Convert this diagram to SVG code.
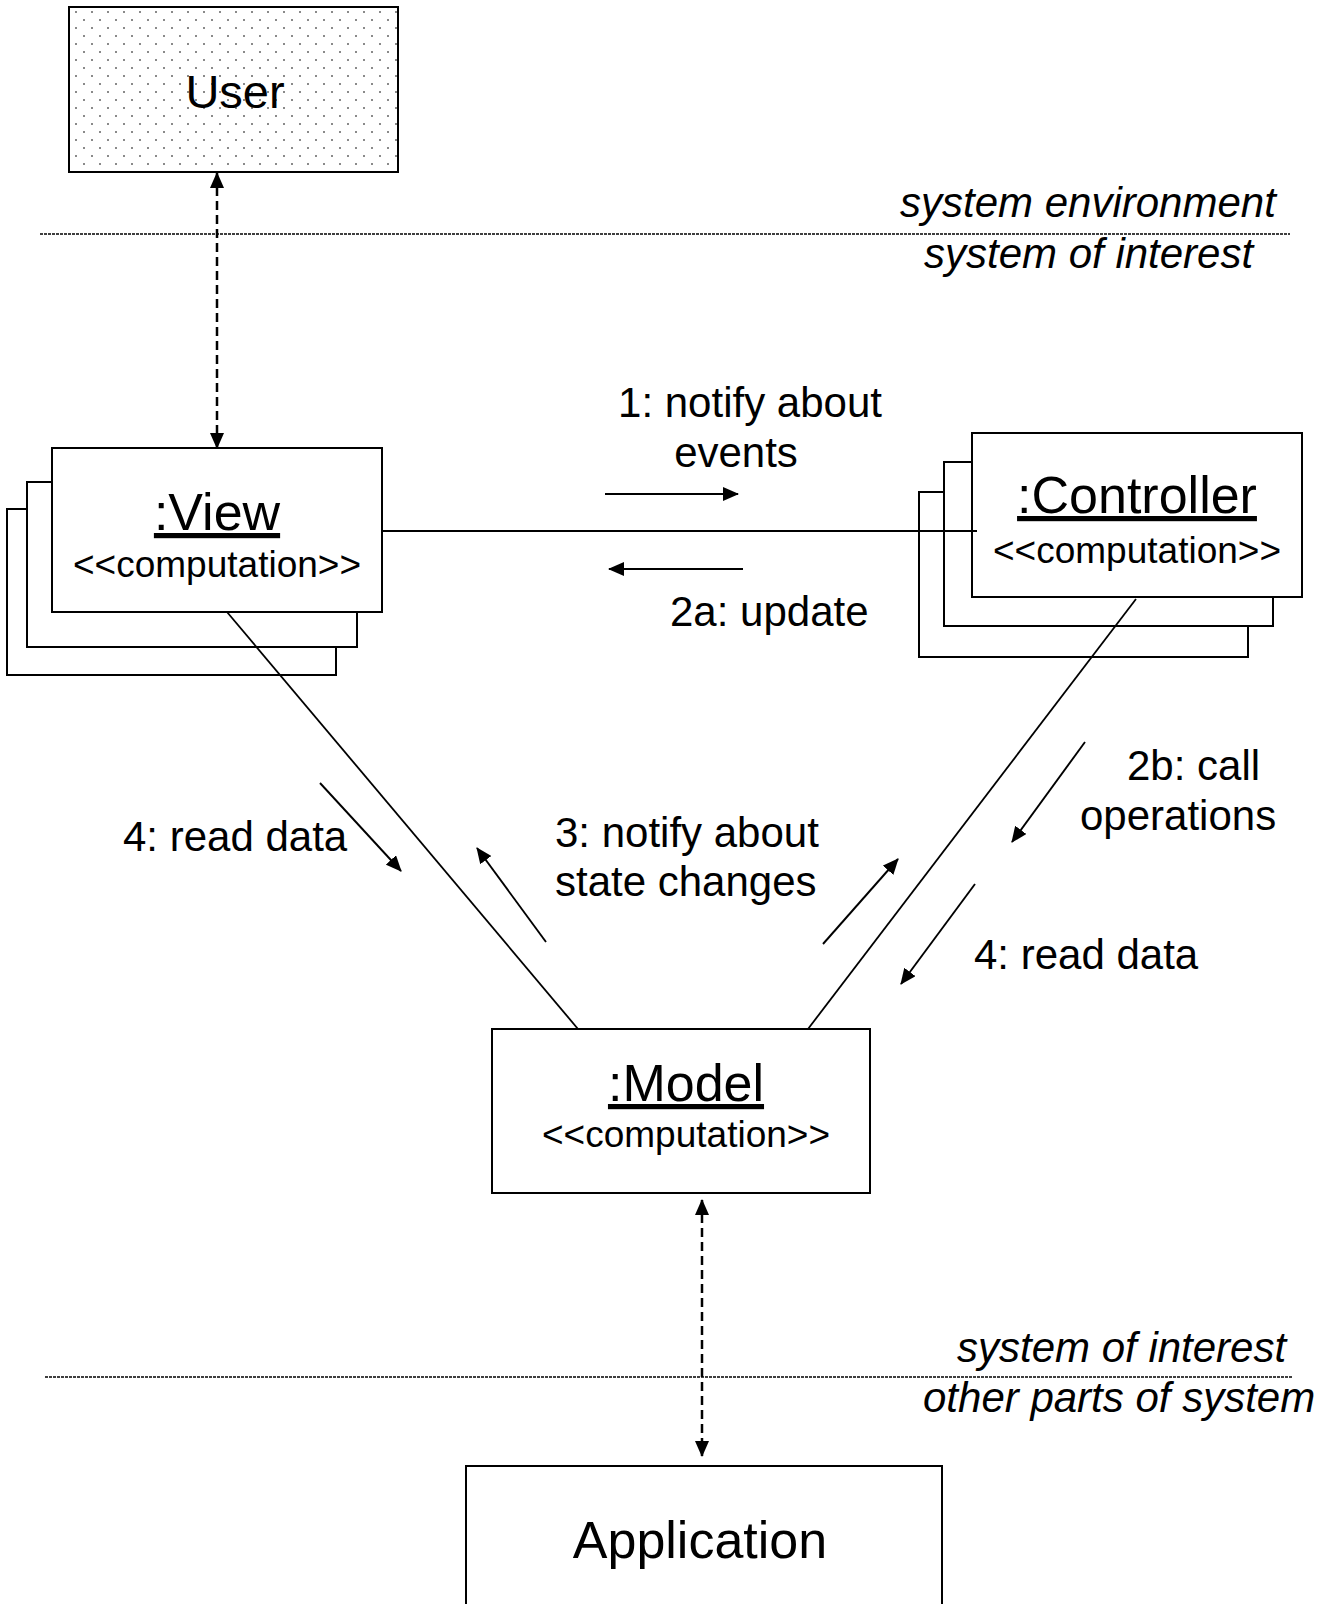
<svg xmlns="http://www.w3.org/2000/svg" width="1338" height="1604" viewBox="0 0 1338 1604">
<style>
  text { font-family: "Liberation Sans", Arial, sans-serif; fill: #000; }
  .title { font-size: 52px; text-anchor: middle; text-decoration: underline; }
  .stereo { font-size: 37px; text-anchor: middle; }
  .lbl { font-size: 42px; }
  .env { font-size: 42px; font-style: italic; }
  .box { fill: #fff; stroke: #000; stroke-width: 2; }
  .conn { fill: none; stroke: #000; stroke-width: 1.8; }
  .msg { fill: none; stroke: #000; stroke-width: 1.9; marker-end: url(#ah); }
  .dash { fill: none; stroke: #000; stroke-width: 2.5; stroke-dasharray: 9 5; marker-start: url(#dh); marker-end: url(#dh); }
  .bound { fill: none; stroke: #000; stroke-width: 1.6; stroke-dasharray: 3 1; }
</style>
<defs>
  <marker id="ah" viewBox="0 0 16 14" refX="15" refY="7" markerWidth="16" markerHeight="14" markerUnits="userSpaceOnUse" orient="auto">
    <path d="M0,0 L16,7 L0,14 Z" fill="#000"/>
  </marker>
  <marker id="dh" viewBox="0 0 16 14" refX="15" refY="7" markerWidth="16" markerHeight="14" markerUnits="userSpaceOnUse" orient="auto-start-reverse">
    <path d="M0,0 L16,7 L0,14 Z" fill="#000"/>
  </marker>
  <pattern id="dots" x="0" y="0" width="16" height="16" patternUnits="userSpaceOnUse">
    <rect width="16" height="16" fill="#fff"/>
    <rect x="3" y="3" width="2" height="2" fill="#8a8a8a"/>
    <rect x="11" y="11" width="2" height="2" fill="#8a8a8a"/>
  </pattern>
</defs>

<g id="boundaries">
  <line class="bound" x1="40" y1="234" x2="1290" y2="234"/>
  <text class="env" x="900" y="217">system environment</text>
  <text class="env" x="924" y="268">system of interest</text>
  <line class="bound" x1="45" y1="1377" x2="1293" y2="1377"/>
  <text class="env" x="957" y="1362">system of interest</text>
  <text class="env" x="923" y="1412">other parts of system</text>
</g>

<g id="user">
  <rect x="69" y="7" width="329" height="165" fill="url(#dots)" stroke="#000" stroke-width="2"/>
  <text x="235" y="108" font-size="47" text-anchor="middle">User</text>
</g>

<g id="view">
  <rect class="box" x="7" y="509" width="329" height="166"/>
  <rect class="box" x="27" y="482" width="330" height="165"/>
  <rect class="box" x="52" y="448" width="330" height="164"/>
  <text class="title" x="217" y="530">:View</text>
  <text class="stereo" x="217" y="577">&lt;&lt;computation&gt;&gt;</text>
</g>

<g id="controller">
  <rect class="box" x="919" y="492" width="329" height="165"/>
  <rect class="box" x="944" y="462" width="329" height="164"/>
  <rect class="box" x="972" y="433" width="330" height="164"/>
  <text class="title" x="1137" y="513">:Controller</text>
  <text class="stereo" x="1137" y="563">&lt;&lt;computation&gt;&gt;</text>
</g>

<g id="model">
  <rect class="box" x="492" y="1029" width="378" height="164"/>
  <text class="title" x="686" y="1101">:Model</text>
  <text class="stereo" x="686" y="1147">&lt;&lt;computation&gt;&gt;</text>
</g>

<g id="application">
  <rect class="box" x="466" y="1466" width="476" height="160"/>
  <text x="700" y="1558" font-size="52" text-anchor="middle">Application</text>
</g>

<g id="connectors">
  <line class="conn" x1="382" y1="531" x2="977" y2="531"/>
  <line class="conn" x1="227" y1="612" x2="578" y2="1029"/>
  <line class="conn" x1="1136" y1="599" x2="808" y2="1029"/>
  <line class="dash" x1="217" y1="173" x2="217" y2="448"/>
  <line class="dash" x1="702" y1="1200" x2="702" y2="1456"/>
  <line class="msg" x1="605" y1="494" x2="738" y2="494"/>
  <line class="msg" x1="743" y1="569" x2="609" y2="569"/>
  <line class="msg" x1="320" y1="783" x2="401" y2="871"/>
  <line class="msg" x1="546" y1="942" x2="477" y2="848"/>
  <line class="msg" x1="823" y1="944" x2="898" y2="859"/>
  <line class="msg" x1="1085" y1="742" x2="1012" y2="842"/>
  <line class="msg" x1="975" y1="884" x2="901" y2="984"/>
</g>

<g id="labels">
  <text class="lbl" x="750" y="417" text-anchor="middle">1: notify about</text>
  <text class="lbl" x="736" y="467" text-anchor="middle">events</text>
  <text class="lbl" x="670" y="626">2a: update</text>
  <text class="lbl" x="123" y="851">4: read data</text>
  <text class="lbl" x="555" y="847">3: notify about</text>
  <text class="lbl" x="555" y="896">state changes</text>
  <text class="lbl" x="1127" y="780">2b: call</text>
  <text class="lbl" x="1080" y="830">operations</text>
  <text class="lbl" x="974" y="969">4: read data</text>
</g>
</svg>
